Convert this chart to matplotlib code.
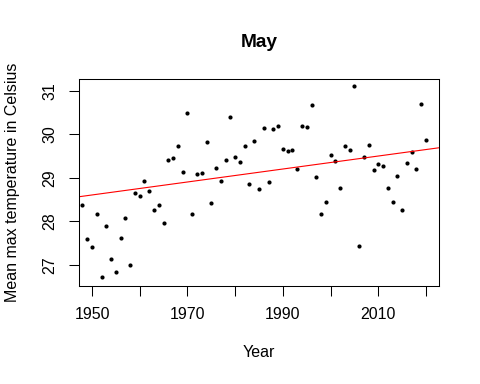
import numpy as np
import matplotlib.pyplot as plt

plt.rcParams['font.family'] = ['Liberation Sans', 'DejaVu Sans']

# May mean max temperature per year
years = np.arange(1948, 2021)
temps = np.array([
    28.38, 27.60, 27.42, 28.17, 26.72, 27.90, 27.13, 26.83, 27.63, 28.09,
    27.01, 28.66, 28.59, 28.93, 28.70, 28.27, 28.38, 27.97, 29.42, 29.46,
    29.74, 29.14, 30.49, 28.16, 29.10, 29.12, 29.82, 28.43, 29.23, 28.93,
    29.42, 30.40, 29.49, 29.37, 29.74, 28.85, 29.85, 28.75, 30.14, 28.90,
    30.12, 30.19, 29.67, 29.62, 29.64, 29.21, 30.19, 30.17, 30.68, 29.01,
    28.17, 28.45, 29.53, 29.39, 28.77, 29.74, 29.64, 31.11, 27.44, 29.49,
    29.76, 29.18, 29.32, 29.27, 28.77, 28.45, 29.04, 28.26, 29.34, 29.59,
    29.21, 30.70, 29.87,
])
# trend line: value at 1948 and slope per year
trend_1948 = 28.578
trend_slope = 0.0149

xticks = [1950, 1960, 1970, 1980, 1990, 2000, 2010, 2020]
xlabels = ['1950', '', '1970', '', '1990', '', '2010', '']
yticks = [27, 28, 29, 30, 31]

fig = plt.figure(figsize=(4.8, 3.84), dpi=100)
ax = fig.add_axes([78.7/480, 1-285.7/384, 360.3/480, 206.7/384])

ax.plot(years, temps, 'o', color='black', ms=3, mew=0)

# straight line across the whole panel (like abline)
ax.axline((1948, trend_1948), slope=trend_slope, color='red', lw=0.8)

ax.set_xlim(1947.21, 2022.72)
ax.set_ylim(26.525, 31.27)
ax.set_xticks(xticks)
ax.set_xticklabels(xlabels)
ax.set_yticks(yticks)
ax.set_yticklabels([str(v) for v in yticks], rotation=90, va='center')
ax.tick_params(length=7.2, width=0.75, labelsize=11.5, pad=8)
for s in ax.spines.values():
    s.set_linewidth(0.75)

ax.set_title('May', fontsize=13.8, fontweight='bold', pad=23)
ax.set_xlabel('Year', fontsize=11.5)
ax.set_ylabel('Mean max temperature in Celsius', fontsize=11.5)
ax.xaxis.set_label_coords(0.5, -0.285)
ax.yaxis.set_label_coords(-0.163, 0.5)

fig.savefig('out.png', dpi=100)
